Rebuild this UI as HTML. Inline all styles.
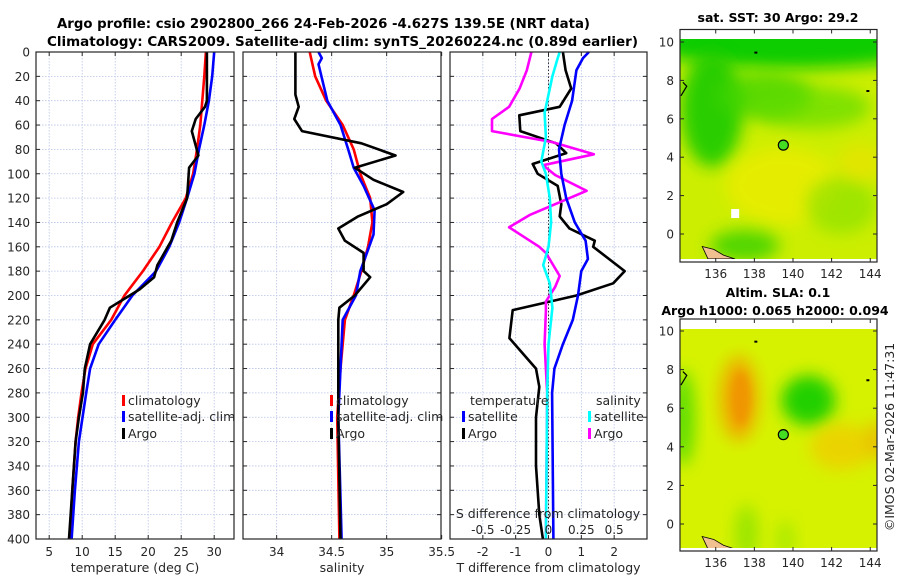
<!DOCTYPE html>
<html><head><meta charset="utf-8"><style>
html,body{margin:0;padding:0;background:#fff;width:900px;height:580px;overflow:hidden}
svg text{font-family:"DejaVu Sans","Liberation Sans",sans-serif;fill:#262626}
</style></head><body>
<svg id="fig" xmlns="http://www.w3.org/2000/svg" width="900" height="580" viewBox="0 0 900 580">
<defs>
<filter id="blur8" x="-50%" y="-50%" width="200%" height="200%"><feGaussianBlur stdDeviation="8"/></filter>
<filter id="blur4" x="-50%" y="-50%" width="200%" height="200%"><feGaussianBlur stdDeviation="4"/></filter>
<clipPath id="clipA"><rect x="680" y="39" width="197" height="220"/></clipPath>
<clipPath id="clipB"><rect x="680" y="329" width="197" height="219"/></clipPath>
</defs>
<text x="57" y="28" font-size="13" font-weight="bold" textLength="533" lengthAdjust="spacingAndGlyphs" style="fill:#000">Argo profile: csio 2902800_266 24-Feb-2026 -4.627S 139.5E (NRT data)</text>
<text x="47" y="46" font-size="13" font-weight="bold" textLength="591" lengthAdjust="spacingAndGlyphs" style="fill:#000">Climatology: CARS2009. Satellite-adj clim: synTS_20260224.nc (0.89d earlier)</text>
<g id="plots"></g>
<g id="maps"></g>
</svg>
<script>
// ---- data (depth in m) ----
const tempClimDepth = [0,20,40,60,80,100,120,140,160,180,200,220,240,260,280,300,320,360,400];
const tempClim      = [28.75,28.5,28.2,27.9,27.4,26.8,25.7,23.6,21.7,19.2,16.4,14.4,11.6,10.5,9.9,9.4,9.0,8.5,8.1];
const tempSatDepth  = [0,20,40,60,80,100,120,140,160,180,200,220,240,260,280,320,360,400];
const tempSat       = [30.0,29.7,29.2,28.5,27.7,27.0,25.9,24.7,23.2,21.2,17.6,15.0,12.5,11.2,10.6,9.5,8.9,8.4];
const tempArgoDepth = [0,40,45,55,65,85,95,120,140,155,175,185,195,210,220,240,260,280,300,320,360,400];
const tempArgo      = [28.9,28.9,28.6,27.2,26.6,27.6,26.2,25.9,24.4,23.5,21.4,20.9,18.7,14.2,13.4,11.2,10.4,10.1,9.5,9.0,8.5,8.0];

const salClimDepth = [0,20,40,60,80,100,120,140,160,180,200,220,240,260,300,400];
const salClim      = [34.30,34.35,34.45,34.60,34.70,34.76,34.85,34.87,34.83,34.77,34.70,34.62,34.60,34.58,34.55,34.57];
const salSatDepth  = [0,5,10,40,60,80,95,110,130,150,170,180,200,220,260,300,400];
const salSat       = [34.38,34.41,34.38,34.46,34.58,34.65,34.70,34.79,34.89,34.88,34.80,34.76,34.72,34.60,34.58,34.56,34.59];
const salArgoDepth = [0,35,45,55,65,75,85,95,105,115,125,135,145,155,165,180,185,200,210,220,260,300,400];
const salArgo      = [34.17,34.17,34.20,34.16,34.23,34.77,35.08,34.71,34.88,35.15,35.00,34.74,34.56,34.62,34.79,34.79,34.85,34.71,34.57,34.56,34.56,34.56,34.58];

const dTSatDepth  = [0,5,15,40,60,80,100,120,140,155,170,180,200,220,240,260,280,400];
const dTSat       = [1.23,1.05,0.85,0.72,0.49,0.32,0.39,0.54,0.80,1.13,1.20,1.00,0.90,0.74,0.44,0.18,0.11,0.15];
const dTArgoDepth = [0,15,30,45,52,65,75,83,92,100,110,125,135,145,155,160,180,190,200,212,235,260,275,300,340,380,400];
const dTArgo      = [0.44,0.52,0.69,0.34,-0.89,-0.86,0.23,0.54,-0.48,-0.33,0.28,0.39,0.34,0.64,1.41,1.36,2.32,1.97,0.85,-1.09,-1.19,-0.38,-0.28,-0.38,-0.38,-0.28,-0.17];
const dSSatDepth  = [0,5,20,40,50,70,90,100,120,140,160,175,190,210,220,240,280,400];
const dSSat       = [0.085,0.07,0.03,-0.01,-0.03,-0.02,-0.055,-0.02,0.01,0.02,0,-0.04,0.01,0.03,0.02,0,-0.01,-0.02];
const dSArgoDepth = [0,15,30,45,55,65,74,84,93,101,114,134,144,160,165,184,193,205,213,240,280,400];
const dSArgo      = [-0.13,-0.165,-0.22,-0.30,-0.43,-0.43,0.03,0.345,-0.04,0.05,0.29,-0.145,-0.30,-0.07,-0.02,0.085,0.05,-0.02,-0.02,-0.03,-0.01,-0.02];

const depthTicks = [0,20,40,60,80,100,120,140,160,180,200,220,240,260,280,300,320,340,360,380,400];
const tempTicks = [5,10,15,20,25,30];
const salTicks = [34,34.5,35,35.5];
const salTickLabels = ["34","34.5","35","35.5"];
const dTTicks = [-2,-1,0,1,2];
const dSTicks = [-0.5,-0.25,0,0.25,0.5];
const dSTickLabels = ["-0.5","-0.25","0","0.25","0.5"];
const lonTicks = [136,138,140,142,144];
const latTicks = [0,2,4,6,8,10];

const NS = "http://www.w3.org/2000/svg";
function mk(tag, attrs, parent, txt){ const e=document.createElementNS(NS,tag); for(const k in attrs) e.setAttribute(k,attrs[k]); if(txt!==undefined) e.textContent=txt; parent.appendChild(e); return e; }
const plots = document.getElementById('plots');
const Y0=52, Y1=539;
const yD = d => Y0 + d*(Y1-Y0)/400;
function lin(d0,d1,r0,r1){ return v => r0 + (v-d0)*(r1-r0)/(d1-d0); }

function panel(name, x0, x1, xs, ticks, tickLabels, xlabel){
  const g = mk('g',{},plots);
  
  
  // grid
  depthTicks.forEach(d=>{ if(d>0&&d<400) mk('line',{x1:x0,x2:x1,y1:yD(d),y2:yD(d),stroke:'#b8c4e8','stroke-width':0.8,'stroke-dasharray':'1.5,1.5'},g); });
  ticks.forEach(t=>{ const x=xs(t); if(x>x0+1&&x<x1-1) mk('line',{x1:x,x2:x,y1:Y0,y2:Y1,stroke:'#b8c4e8','stroke-width':0.8,'stroke-dasharray':'1.5,1.5'},g); });
  // ticks
  depthTicks.forEach(d=>{ mk('line',{x1:x0,x2:x0+4,y1:yD(d),y2:yD(d),stroke:'#262626'},g); mk('line',{x1:x1-4,x2:x1,y1:yD(d),y2:yD(d),stroke:'#262626'},g); });
  ticks.forEach((t,i)=>{ const x=xs(t);
    mk('line',{x1:x,x2:x,y1:Y1,y2:Y1-4,stroke:'#262626'},g);
    mk('line',{x1:x,x2:x,y1:Y0,y2:Y0+4,stroke:'#262626'},g);
    const tl = mk('text',{x:x,y:Y1+17,'font-size':12,'text-anchor':'middle'},g,tickLabels[i]);
    
    
  });
  const xl = mk('text',{x:(x0+x1)/2,y:572,'font-size':12.5,'text-anchor':'middle'},g,xlabel);
  
  
  return g;
}
function line(g, name, xs, depths, vals, color){
  const p = depths.map((d,i)=>(i?'L':'M')+xs(vals[i]).toFixed(1)+','+yD(d).toFixed(1)).join('');
  const e = mk('path',{d:p,fill:'none',stroke:color,'stroke-width':2.6,'stroke-linejoin':'round'},g);
  
  
}
function frame(g,x0,x1){ mk('rect',{x:x0,y:Y0,width:x1-x0,height:Y1-Y0,fill:'none',stroke:'#262626','stroke-width':1.2},g); }
function legendEntry(g, x, y, color, label){
  const r = mk('rect',{x:x,y:y-10,width:3,height:11,fill:color},g);
  
  
  const t = mk('text',{x:x+6,y:y,'font-size':12.5},g,label);
  
  
}

// depth labels
depthTicks.forEach(d=>{ const t=mk('text',{x:30,y:yD(d)+4.5,'font-size':12,'text-anchor':'end'},plots,String(d));
  
   });

// panel 1
const xT = lin(3,33,36,234);
const g1 = panel('temperature-panel',36,234,xT,tempTicks,tempTicks.map(String),'temperature (deg C)');
line(g1,'temp-climatology-line',xT,tempClimDepth,tempClim,'#ff0000');
line(g1,'temp-satellite-line',xT,tempSatDepth,tempSat,'#0000ff');
line(g1,'temp-argo-line',xT,tempArgoDepth,tempArgo,'#000000');
frame(g1,36,234);
legendEntry(g1,122,405,'#ff0000','climatology');
legendEntry(g1,122,421,'#0000ff','satellite-adj. clim');
legendEntry(g1,122,438,'#000000','Argo');

// panel 2
const xS = lin(33.694,35.494,243,441);
const g2 = panel('salinity-panel',243,441,xS,salTicks,salTickLabels,'salinity');
line(g2,'sal-climatology-line',xS,salClimDepth,salClim,'#ff0000');
line(g2,'sal-satellite-line',xS,salSatDepth,salSat,'#0000ff');
line(g2,'sal-argo-line',xS,salArgoDepth,salArgo,'#000000');
frame(g2,243,441);
legendEntry(g2,330,405,'#ff0000','climatology');
legendEntry(g2,330,421,'#0000ff','satellite-adj. clim');
legendEntry(g2,330,438,'#000000','Argo');

// panel 3
const xDT = lin(-3,3,450,647);
const xDS = lin(-0.75,0.75,450,647);
const g3 = panel('difference-panel',450,647,xDT,dTTicks,dTTicks.map(String),'T difference from climatology');
mk('line',{x1:xDT(0),x2:xDT(0),y1:Y0,y2:Y1,stroke:'#333','stroke-width':1,'stroke-dasharray':'1.5,2'},g3);
line(g3,'dt-argo-line',xDT,dTArgoDepth,dTArgo,'#000000');
line(g3,'ds-argo-line',xDS,dSArgoDepth,dSArgo,'#ff00ff');
line(g3,'dt-satellite-line',xDT,dTSatDepth,dTSat,'#0000ff');
line(g3,'ds-satellite-line',xDS,dSSatDepth,dSSat,'#00ffff');
frame(g3,450,647);
dSTicks.forEach((t,i)=>{ const tl=mk('text',{x:xDS(t),y:534,'font-size':12,'text-anchor':'middle'},g3,dSTickLabels[i]);
  
   });
const st = mk('text',{x:548,y:518,'font-size':12.5,'text-anchor':'middle'},g3,'S difference from climatology');


const lt1 = mk('text',{x:470,y:405,'font-size':12.5},g3,'temperature');


const lt2 = mk('text',{x:596,y:405,'font-size':12.5},g3,'salinity');


legendEntry(g3,462,421,'#0000ff','satellite');
legendEntry(g3,462,438,'#000000','Argo');
legendEntry(g3,588,421,'#00ffff','satellite');
legendEntry(g3,588,438,'#ff00ff','Argo');

// ---- maps ----
const maps = document.getElementById('maps');
const lonX = lin(134.15,144.35,680,877);
function mapAxes(g, top, bottom, latY, clipId, name){
  mk('rect',{x:680,y:top,width:197,height:bottom-top,fill:'#fff'},g);
  return latY;
}
function drawMap(name, top, bottom, dataTop, latY, clipId, blobs, base){
  const g = mk('g',{},maps);
  
  
  mk('rect',{x:680,y:top,width:197,height:bottom-top,fill:'#fff'},g);
  const c = mk('g',{'clip-path':'url(#'+clipId+')'},g);
  mk('rect',{x:680,y:dataTop,width:197,height:bottom-dataTop,fill:base},c);
  blobs.forEach(b=>{ mk('ellipse',{cx:lonX(b[0]),cy:latY(b[1]),rx:b[2]*19.3,ry:b[3]*19.2,fill:b[4],opacity:b[5],filter:'url(#'+b[6]+')'},c); });
  // coast
  mk('path',{d:`M${lonX(135.3)},${latY(-0.65)} L${lonX(135.9)},${latY(-0.8)} L${lonX(136.4)},${latY(-1.1)} L${lonX(137)},${latY(-1.3)} L${lonX(135.6)},${latY(-1.3)} Z`,fill:'#f0c090',stroke:'#000','stroke-width':0.8},c);
  mk('path',{d:`M${lonX(134.2)},${latY(7.2)} L${lonX(134.5)},${latY(7.7)} L${lonX(134.3)},${latY(7.9)}`,fill:'none',stroke:'#000','stroke-width':1.2},c);
  mk('rect',{x:lonX(138),y:latY(9.5),width:3,height:2,fill:'#000'},c);
  mk('rect',{x:lonX(143.8),y:latY(7.5),width:3,height:2,fill:'#000'},c);
  // argo location
  const ar = mk('circle',{cx:lonX(139.5),cy:latY(4.63),r:5,fill:'#44dd22',stroke:'#000','stroke-width':1.2},g);
  
  
  mk('rect',{x:680,y:top,width:197,height:bottom-top,fill:'none',stroke:'#262626','stroke-width':1.2},g);
  lonTicks.forEach(l=>{ const x=lonX(l);
    mk('line',{x1:x,x2:x,y1:bottom,y2:bottom-4,stroke:'#262626'},g);
    mk('line',{x1:x,x2:x,y1:top,y2:top+4,stroke:'#262626'},g);
    const t=mk('text',{x:x,y:bottom+16,'font-size':12,'text-anchor':'middle'},g,String(l));
    
     });
  latTicks.forEach(l=>{ const y=latY(l);
    mk('line',{x1:680,x2:684,y1:y,y2:y,stroke:'#262626'},g);
    mk('line',{x1:873,x2:877,y1:y,y2:y,stroke:'#262626'},g);
    const t=mk('text',{x:674,y:y+4.5,'font-size':12,'text-anchor':'end'},g,String(l));
    
     });
  return g;
}
const latA = lin(0,10,234,42);
const sstBlobs = [
  [140,10.2,8,1.6,'#10cc00',1,'blur8'],
  [135.8,6.5,1.6,3,'#20cc00',0.95,'blur8'],
  [138.5,7.2,2.5,1.2,'#40d400',0.8,'blur8'],
  [141,6.6,3,1.1,'#60dc00',0.7,'blur8'],
  [139.5,2.5,3,2,'#e8ec00',0.9,'blur8'],
  [142.5,1.5,1.8,1.5,'#80e000',0.6,'blur8'],
  [137.5,-0.6,1.8,0.8,'#30d000',0.8,'blur8'],
  [143.5,3.7,1.2,1,'#f0e000',0.6,'blur8']
];
const gA = drawMap('sst-map',29.5,262,39,latA,'clipA',sstBlobs,'#ccee00');
mk('rect',{x:lonX(136.8),y:latA(1.3),width:8,height:9,fill:'#fff'},gA);
const tA = mk('text',{x:778,y:22,'font-size':12.5,'font-weight':'bold','text-anchor':'middle',style:'fill:#000'},maps,'sat. SST: 30 Argo: 29.2');



const latB = lin(0,10,524,331);
const slaBlobs = [
  [137.2,6.5,1.0,2.2,'#f0a800',0.95,'blur8'],
  [137.3,6.5,0.5,1.4,'#f09000',0.8,'blur4'],
  [140.8,6.4,1.4,1.3,'#22d000',1,'blur8'],
  [142.5,4.0,1.6,1.2,'#f0cc00',0.8,'blur8'],
  [144.3,4.3,0.6,1,'#f0b000',0.7,'blur8'],
  [134.3,5.5,0.6,2.5,'#40d800',0.8,'blur8'],
  [137.6,-0.5,0.6,1.5,'#80e000',0.7,'blur8'],
  [139.6,-0.8,0.5,1,'#90e400',0.6,'blur8']
];
drawMap('sla-map',319,551,329,latB,'clipB',slaBlobs,'#d6f200');
const tB1 = mk('text',{x:778,y:297,'font-size':12.5,'font-weight':'bold','text-anchor':'middle',style:'fill:#000'},maps,'Altim. SLA: 0.1');


const tB2 = mk('text',{x:775,y:315,'font-size':12.5,'font-weight':'bold','text-anchor':'middle',style:'fill:#000'},maps,'Argo h1000: 0.065 h2000: 0.094');


const cr = mk('text',{x:0,y:0,'font-size':12.5,'text-anchor':'middle',transform:'translate(894,437) rotate(-90)'},maps,'©IMOS 02-Mar-2026 11:47:31');


</script>
</body></html>
